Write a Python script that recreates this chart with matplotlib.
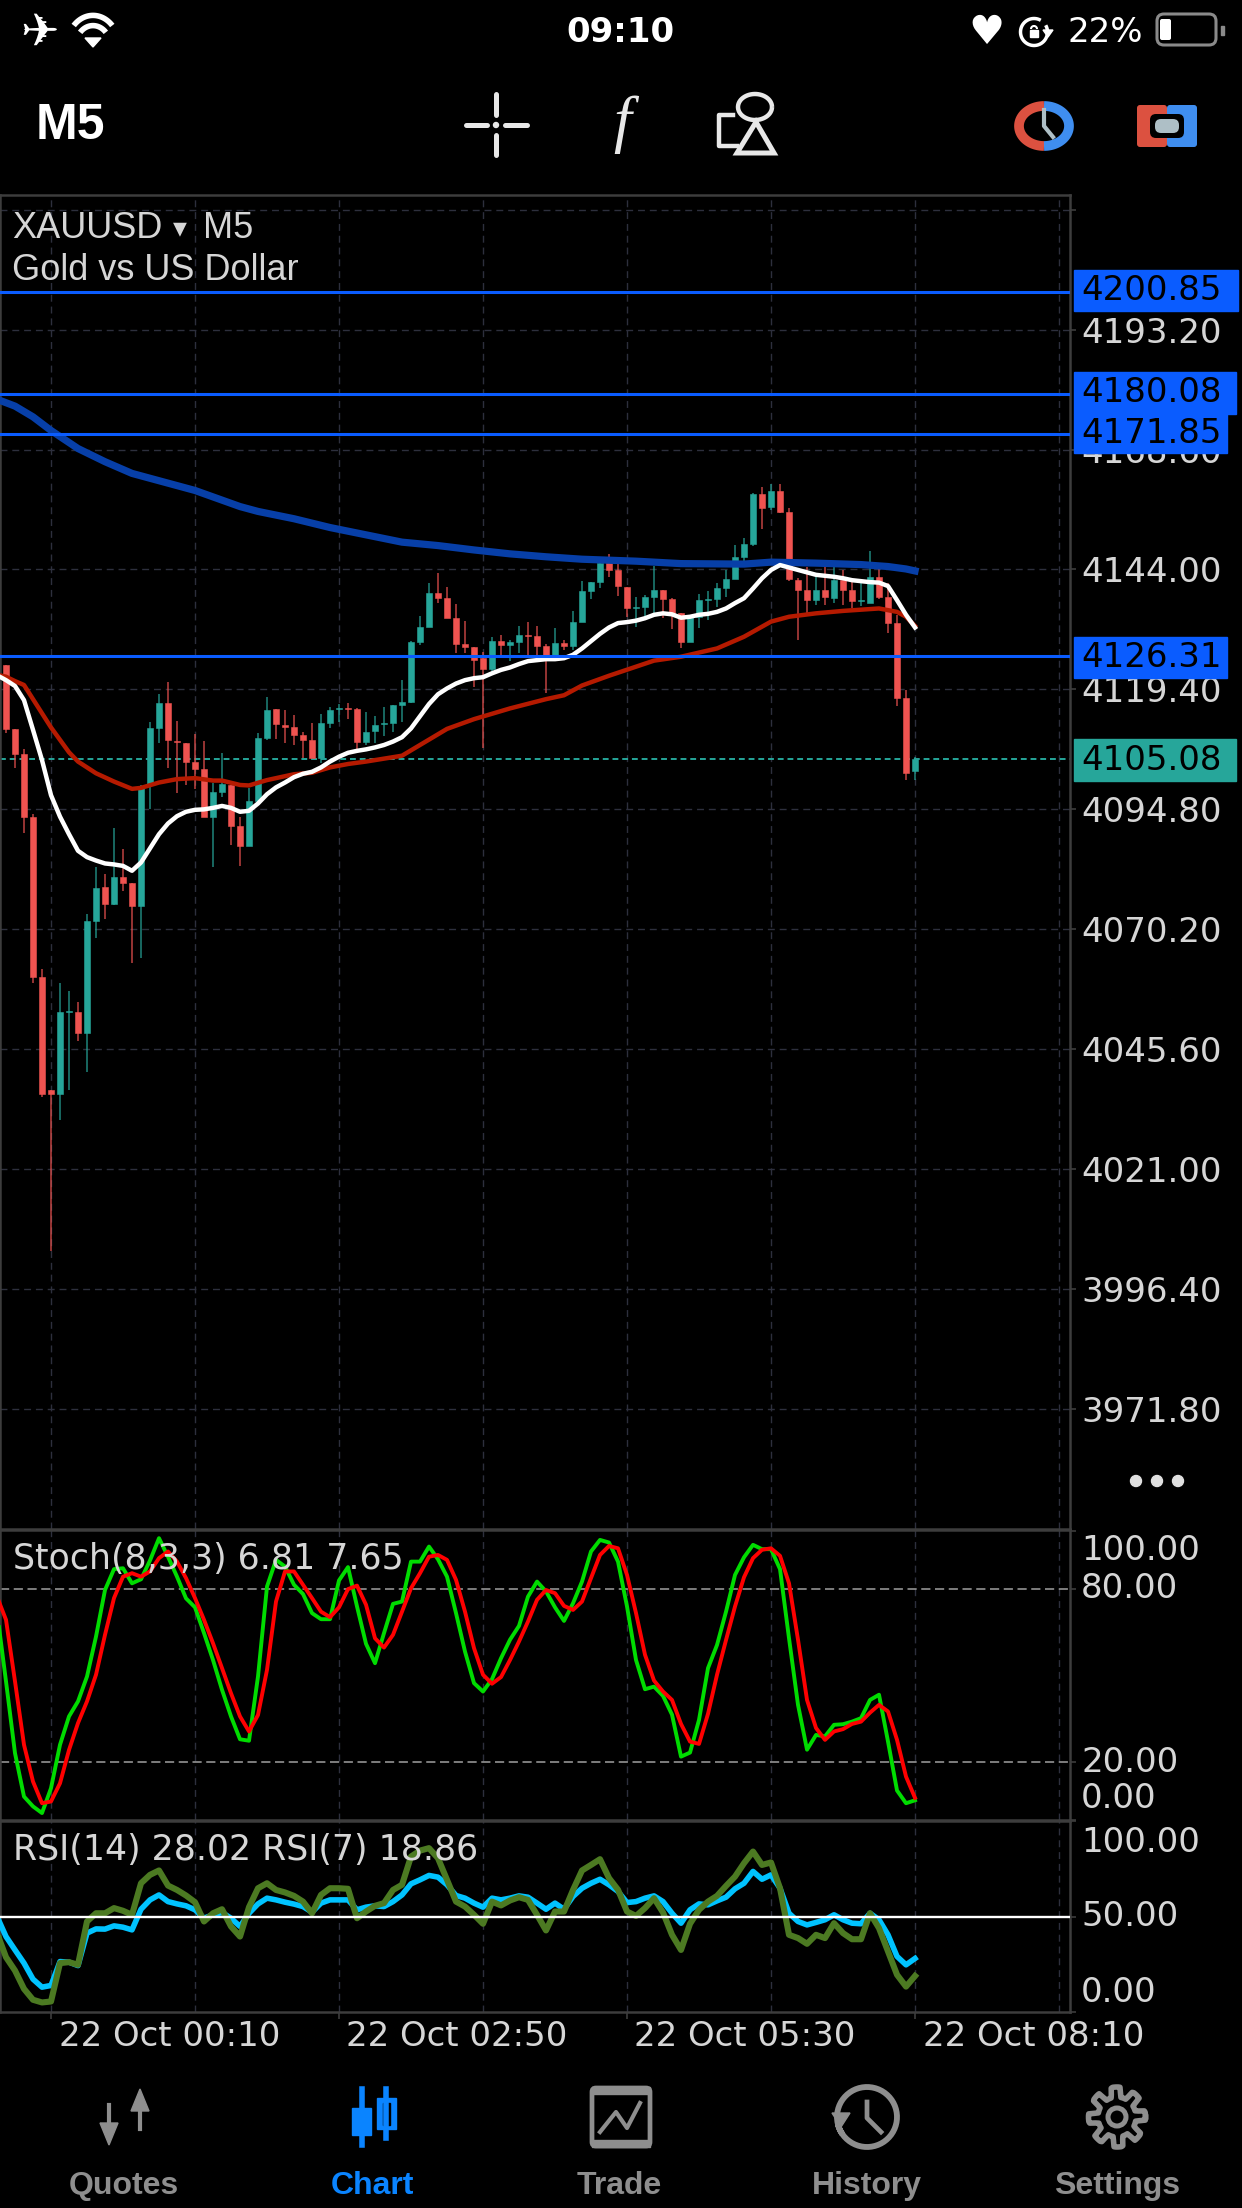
import numpy as np
import matplotlib
matplotlib.use("Agg")
import matplotlib.pyplot as plt
from matplotlib.patches import Rectangle, FancyBboxPatch, Polygon, Circle

W, H = 1242, 2208

# candles, one per 5 minute bar
open_p = [4124.4, 4111.3, 4106.2, 4093.2, 4060.4, 4037.2, 4036.4, 4053.2, 4053.2, 4048.9,
          4071.9, 4078.9, 4075.4, 4080.9, 4079.7, 4075.0, 4099.8, 4111.5, 4116.6, 4108.8,
          4108.4, 4104.5, 4103.1, 4093.2, 4098.4, 4099.8, 4091.4, 4087.3, 4096.5, 4109.4,
          4115.4, 4112.1, 4111.7, 4110.1, 4109.0, 4105.3, 4112.5, 4115.4, 4115.6, 4115.4,
          4108.6, 4110.9, 4112.3, 4112.5, 4116.2, 4116.8, 4129.1, 4132.2, 4139.2, 4138.2,
          4134.0, 4128.7, 4128.1, 4125.8, 4123.6, 4129.3, 4128.5, 4129.1, 4130.6, 4130.4,
          4128.3, 4126.5, 4128.9, 4128.3, 4133.2, 4139.6, 4141.4, 4145.3, 4143.9, 4140.4,
          4136.1, 4136.3, 4138.4, 4139.8, 4137.9, 4135.1, 4129.1, 4134.3, 4137.7, 4137.9,
          4140.2, 4142.1, 4146.6, 4149.2, 4159.5, 4156.8, 4160.1, 4155.8, 4141.8, 4139.8,
          4137.7, 4139.8, 4138.2, 4141.8, 4139.8, 4137.5, 4137.1, 4142.5, 4138.4, 4133.0,
          4117.6, 4102.7]
high_p = [4124.4, 4111.3, 4107.2, 4093.9, 4062.1, 4037.2, 4059.2, 4057.5, 4055.3, 4073.3,
          4083.0, 4081.5, 4091.0, 4086.7, 4079.7, 4099.8, 4112.7, 4118.5, 4120.9, 4112.9,
          4108.4, 4110.3, 4108.8, 4100.2, 4106.4, 4099.8, 4093.2, 4099.2, 4110.5, 4117.9,
          4115.4, 4115.2, 4114.2, 4110.7, 4112.5, 4114.4, 4115.8, 4116.4, 4116.6, 4115.6,
          4114.8, 4114.0, 4115.8, 4116.2, 4121.3, 4129.3, 4134.5, 4141.2, 4143.3, 4140.4,
          4136.9, 4133.4, 4128.1, 4127.1, 4130.2, 4130.6, 4129.5, 4132.4, 4133.2, 4132.4,
          4128.7, 4132.0, 4129.5, 4135.5, 4141.6, 4141.4, 4146.6, 4147.2, 4145.9, 4140.4,
          4138.4, 4138.8, 4144.7, 4139.8, 4138.2, 4135.1, 4134.7, 4139.0, 4139.6, 4141.2,
          4143.9, 4149.0, 4150.5, 4159.7, 4160.9, 4161.5, 4161.5, 4156.6, 4142.3, 4144.5,
          4142.5, 4144.5, 4144.5, 4143.9, 4142.3, 4141.2, 4147.8, 4144.1, 4141.2, 4134.7,
          4119.3, 4105.5]
low_p = [4110.5, 4103.3, 4090.0, 4059.2, 4035.8, 4004.2, 4031.1, 4037.2, 4047.3, 4040.9,
         4068.4, 4072.3, 4075.2, 4078.1, 4063.3, 4064.3, 4094.9, 4108.4, 4103.3, 4098.2,
         4099.8, 4099.0, 4093.2, 4083.0, 4097.3, 4087.5, 4083.2, 4087.3, 4096.5, 4109.0,
         4109.2, 4108.4, 4108.0, 4105.3, 4105.3, 4104.3, 4111.5, 4112.7, 4113.3, 4107.2,
         4108.0, 4108.4, 4109.9, 4110.7, 4112.7, 4116.6, 4128.5, 4132.2, 4137.1, 4134.0,
         4126.9, 4126.9, 4119.9, 4107.4, 4123.2, 4126.0, 4125.2, 4126.9, 4126.0, 4125.8,
         4118.7, 4125.8, 4127.5, 4127.5, 4133.2, 4137.9, 4140.2, 4142.5, 4138.6, 4134.3,
         4132.2, 4134.5, 4134.7, 4134.0, 4131.8, 4127.9, 4129.1, 4132.0, 4133.6, 4136.3,
         4138.4, 4142.1, 4145.7, 4148.8, 4152.3, 4156.2, 4155.6, 4141.6, 4129.5, 4135.1,
         4136.7, 4136.7, 4137.1, 4136.7, 4136.1, 4136.5, 4137.1, 4137.9, 4131.0, 4116.0,
         4100.8, 4100.8]
close_p = [4111.3, 4106.2, 4093.2, 4060.4, 4036.4, 4036.4, 4053.2, 4053.4, 4048.9, 4071.9,
           4078.7, 4075.4, 4080.9, 4079.7, 4075.0, 4099.2, 4111.5, 4116.6, 4109.0, 4108.6,
           4104.5, 4103.1, 4093.2, 4098.4, 4100.0, 4091.4, 4087.3, 4096.5, 4109.4, 4115.2,
           4112.3, 4111.7, 4110.1, 4109.0, 4105.3, 4112.5, 4115.2, 4115.6, 4115.4, 4108.6,
           4110.7, 4112.1, 4112.5, 4116.2, 4116.8, 4129.1, 4132.2, 4139.2, 4138.2, 4134.0,
           4128.7, 4128.1, 4125.4, 4123.6, 4129.3, 4128.5, 4129.1, 4130.6, 4130.4, 4128.3,
           4126.0, 4128.9, 4128.3, 4133.2, 4139.6, 4141.4, 4145.3, 4143.9, 4140.6, 4136.1,
           4136.3, 4138.4, 4139.8, 4137.9, 4135.1, 4129.1, 4134.3, 4137.7, 4137.9, 4140.2,
           4142.1, 4146.6, 4149.2, 4159.5, 4156.6, 4160.1, 4155.8, 4142.1, 4139.8, 4137.7,
           4139.8, 4138.4, 4141.8, 4139.8, 4137.5, 4137.7, 4142.5, 4138.4, 4133.0, 4117.6,
           4102.3, 4105.08]

# moving averages, bar numbers start one bar left of the first candle
ma_fast = [4122.3, 4121.3, 4120.1, 4117.2, 4111.1, 4104.9, 4097.7, 4093.3, 4089.7, 4086.3, 4085.0,
           4084.3, 4083.7, 4083.5, 4083.2, 4082.2, 4083.9, 4086.8, 4089.7, 4091.9, 4093.4,
           4094.3, 4094.7, 4094.8, 4095.1, 4095.5, 4095.1, 4094.3, 4094.5, 4096.0, 4097.9,
           4099.3, 4100.3, 4101.4, 4102.1, 4102.5, 4103.4, 4104.6, 4105.6, 4106.4, 4106.8,
           4107.1, 4107.5, 4108.0, 4108.7, 4109.6, 4111.4, 4113.9, 4116.4, 4118.4, 4119.6,
           4120.6, 4121.3, 4121.7, 4121.9, 4122.7, 4123.4, 4123.9, 4124.6, 4125.2, 4125.4,
           4125.6, 4125.6, 4125.8, 4126.5, 4127.8, 4129.3, 4130.8, 4132.1, 4133.0, 4133.2,
           4133.5, 4134.0, 4134.7, 4135.0, 4134.8, 4134.1, 4134.3, 4134.7, 4134.9, 4135.3,
           4136.0, 4137.1, 4138.1, 4140.1, 4142.2, 4143.9, 4144.9, 4144.4, 4143.9, 4143.4,
           4142.9, 4142.7, 4142.5, 4142.2, 4141.8, 4141.6, 4141.4, 4141.3, 4140.6, 4137.7,
           4134.7, 4132.1]
ma_mid_bars = [-1, 0, 1, 2, 3, 5, 7, 8, 10, 12, 14, 15, 17, 19, 21, 23, 24, 26, 27, 29, 32, 34, 36,
               38, 40, 44, 46, 49, 52, 56, 60, 62, 64, 67, 72, 75, 79, 82, 85, 87, 90, 93, 97, 99,
               100, 101]
ma_mid = [4122.4, 4122.0, 4121.1, 4120.3, 4117.4, 4111.6, 4106.5, 4104.6, 4102.2, 4100.5, 4099.0,
          4099.2, 4100.3, 4101.0, 4101.2, 4100.7, 4100.7, 4099.8, 4099.7, 4100.8, 4102.0, 4102.3,
          4103.4, 4104.1, 4104.6, 4105.8, 4108.0, 4111.3, 4113.3, 4115.5, 4117.4, 4118.2, 4120.2,
          4122.2, 4125.3, 4126.1, 4127.8, 4130.2, 4133.3, 4134.3, 4135.0, 4135.5, 4136.0, 4135.3,
          4134.3, 4132.4]
ma_slow_bars = [-1, 1, 3, 5, 8, 11, 14, 16, 21, 26, 28, 32, 36, 40, 44, 48, 52, 56, 60, 64, 70, 75,
                82, 85, 90, 95, 98, 100, 101]
ma_slow = [4178.9, 4177.5, 4175.3, 4172.5, 4168.8, 4166.1, 4163.7, 4162.7, 4160.2, 4156.9, 4155.9,
           4154.4, 4152.6, 4151.1, 4149.6, 4148.9, 4148.0, 4147.2, 4146.6, 4146.1, 4145.7, 4145.2,
           4145.1, 4145.5, 4145.3, 4145.0, 4144.6, 4144.1, 4143.7]

level_prices = [4200.85, 4180.08, 4171.85, 4126.31]
last_price = 4105.08
price_ticks = [4217.80, 4193.20, 4168.60, 4144.00, 4119.40, 4094.80, 4070.20, 4045.60, 4021.00,
               3996.40, 3971.80]

stoch_k = [72.0, 47.9, 23.1, 8.1, 4.7, 2.4, 11.0, 26.0, 35.8, 41.0, 49.6, 63.4, 79.5, 86.7, 87.0,
           81.8, 83.2, 89.7, 97.4, 91.0, 84.1, 76.6, 73.5, 64.6, 55.3, 45.0, 35.8, 27.9, 27.4,
           49.6, 80.7, 89.9, 87.6, 81.3, 78.1, 71.5, 69.4, 69.4, 82.8, 87.4, 73.8, 60.9, 54.2,
           64.6, 74.7, 75.5, 89.3, 89.3, 94.5, 90.1, 84.1, 71.5, 58.2, 47.3, 44.4, 48.7, 55.9,
           62.3, 67.1, 77.2, 82.4, 79.0, 73.5, 68.8, 74.9, 82.4, 92.8, 96.8, 95.9, 89.3, 73.8,
           55.3, 45.2, 46.1, 42.9, 36.4, 21.9, 23.3, 34.6, 52.5, 60.5, 72.0, 84.7, 90.8, 95.1,
           93.6, 93.6, 86.7, 62.8, 39.8, 24.3, 29.4, 28.9, 32.9, 33.1, 34.0, 35.2, 41.5, 43.3,
           27.1, 10.2, 5.8, 6.81]
stoch_d = [77.2, 69.2, 47.9, 26.0, 13.3, 5.8, 6.4, 12.7, 24.2, 33.5, 41.0, 50.2, 64.0, 76.7, 84.1,
           85.3, 84.1, 85.9, 90.5, 92.8, 89.3, 83.6, 76.7, 69.2, 61.1, 52.5, 43.8, 35.8, 30.6,
           36.3, 51.9, 75.5, 85.9, 85.9, 81.3, 76.7, 72.0, 70.1, 73.5, 79.8, 81.0, 74.4, 62.8,
           59.6, 64.0, 72.0, 80.1, 85.3, 91.0, 91.6, 89.9, 83.0, 72.0, 59.4, 50.2, 47.1, 49.4,
           55.3, 61.7, 68.6, 76.1, 79.5, 78.4, 74.0, 72.6, 75.5, 83.6, 91.6, 94.7, 93.9, 84.7,
           71.5, 57.1, 48.2, 44.4, 41.5, 33.2, 27.1, 26.3, 36.7, 50.2, 62.2, 73.8, 83.9, 90.5,
           93.4, 93.9, 91.3, 81.8, 62.3, 41.5, 31.8, 27.7, 30.6, 31.4, 33.2, 34.0, 37.1, 39.8,
           37.5, 27.7, 15.0, 7.65]

rsi_14 = [50.0, 39.5, 32.5, 25.6, 17.2, 13.0, 13.9, 26.4, 26.1, 24.3, 41.3, 43.5, 43.4, 45.1, 44.4,
          43.0, 53.8, 58.7, 61.3, 57.8, 56.6, 55.6, 53.5, 49.1, 50.9, 52.1, 49.1, 44.8, 51.7,
          56.6, 59.6, 58.7, 57.5, 56.5, 55.2, 52.3, 57.0, 58.7, 58.7, 58.7, 53.5, 54.9, 55.6,
          55.2, 57.8, 61.3, 67.1, 69.2, 71.5, 70.6, 66.6, 61.0, 59.6, 57.0, 54.9, 59.6, 58.7,
          59.6, 60.8, 60.1, 57.0, 53.8, 57.0, 53.8, 60.5, 64.8, 67.4, 69.5, 66.6, 63.1, 57.3,
          57.8, 59.6, 60.8, 57.8, 51.7, 46.5, 53.5, 56.6, 56.1, 58.2, 60.1, 64.5, 67.4, 73.6,
          69.5, 71.8, 64.8, 51.7, 47.4, 45.6, 46.9, 48.3, 50.9, 48.3, 46.5, 46.2, 51.7, 48.3,
          40.4, 29.1, 24.7, 28.02]
rsi_7 = [41.3, 28.7, 21.7, 12.1, 6.4, 5.0, 5.5, 25.6, 26.1, 24.7, 47.4, 51.7, 51.7, 54.4, 53.0,
         50.9, 67.4, 71.8, 74.1, 66.2, 63.9, 61.0, 57.5, 47.4, 51.7, 53.8, 44.8, 39.5, 54.9,
         64.8, 67.4, 63.9, 62.6, 60.8, 57.8, 51.7, 61.3, 64.8, 64.8, 64.5, 49.1, 52.6, 55.6,
         57.0, 63.9, 66.6, 81.4, 84.5, 85.8, 80.5, 69.2, 57.8, 55.2, 50.9, 46.2, 57.8, 55.8,
         58.4, 60.1, 58.7, 50.9, 42.7, 52.6, 52.6, 63.9, 74.1, 77.0, 80.0, 70.1, 64.0, 52.6,
         50.3, 54.4, 59.6, 52.1, 40.4, 32.5, 46.2, 53.5, 57.8, 60.8, 66.0, 70.9, 77.9, 84.0,
         77.0, 78.3, 64.8, 40.4, 38.7, 35.7, 40.4, 38.7, 46.5, 41.3, 38.1, 38.1, 51.7, 43.9,
         31.7, 19.5, 13.3, 18.86]

grid_bars = [5, 21, 37, 53, 69, 85, 101, 117]
time_bars = [5, 37, 69, 101]
time_labels = ["22 Oct 00:10", "22 Oct 02:50", "22 Oct 05:30", "22 Oct 08:10"]

UP = "#26a69a"
DOWN = "#ef5350"
BLUE = "#0a5cff"
GRID = "#2d2f3d"
SPINE = "#3d3d3d"
TEXT = "#d6d6d6"
GREY = "#8e8e8e"
TAB_BLUE = "#0a84ff"
GRID_DASH = (0, (5, 3.5))
LABEL_SIZE = 24.5


def panel(fig, top, bottom, ylim, yticks):
    ax = fig.add_axes([0, 1 - bottom / H, 1070 / W, (bottom - top) / H])
    ax.set_facecolor("black")
    ax.set_xlim(-0.667, 118.22)
    ax.set_ylim(*ylim)
    for name in ax.spines:
        ax.spines[name].set_color(SPINE)
        ax.spines[name].set_linewidth(1.8)
    ax.set_xticks(time_bars)
    ax.set_yticks(yticks)
    ax.tick_params(axis="both", colors=SPINE, length=4.5, width=1.2, labelbottom=False,
                   labelleft=False, left=False, right=True, bottom=False, labelright=False)
    for bar in grid_bars:
        ax.axvline(bar, color=GRID, lw=1.0, ls=GRID_DASH, zorder=1)
    return ax


def draw_main(ax):
    for price in price_ticks:
        ax.axhline(price, color=GRID, lw=1.0, ls=GRID_DASH, zorder=1)
    ax.axhline(last_price, color=UP, lw=1.4, ls=(0, (3, 2)), zorder=2)

    bars = np.arange(len(open_p))
    opens = np.array(open_p)
    closes = np.array(close_p)
    colors = [UP if c >= o else DOWN for o, c in zip(opens, closes)]
    ax.vlines(bars, low_p, high_p, colors=colors, lw=1.1, alpha=0.8, zorder=3)
    ax.bar(bars, np.abs(closes - opens), bottom=np.minimum(opens, closes), width=0.76,
           color=colors, edgecolor=colors, linewidth=0.4, zorder=3)

    ax.plot(ma_slow_bars, ma_slow, color="#073fa8", lw=5.2, zorder=4, solid_joinstyle="round")
    ax.plot(ma_mid_bars, ma_mid, color="#b51a00", lw=3.2, zorder=4, solid_joinstyle="round")
    ax.plot(np.arange(-1, len(ma_fast) - 1), ma_fast, color="white", lw=3.2, zorder=5)
    for price in level_prices:
        ax.axhline(price, color=BLUE, lw=2.2, zorder=6)

    ax.set_yticks(price_ticks)
    ax.tick_params(axis="y", labelright=True, labelcolor=TEXT, labelsize=LABEL_SIZE, pad=3.5)
    ax.set_yticklabels(["" if p == price_ticks[0] else "%.2f" % p for p in price_ticks])


def draw_stoch(ax):
    for level in (80, 20):
        ax.axhline(level, color="#a0a0a0", lw=1.1, ls=(0, (6, 3)), zorder=2)
    x = np.arange(-1, len(stoch_k) - 1)
    ax.plot(x, stoch_k, color="#00dc00", lw=2.8, zorder=3)
    ax.plot(x, stoch_d, color="#ff0000", lw=2.8, zorder=4)


def draw_rsi(ax):
    ax.axhline(50, color="white", lw=1.7, zorder=5)
    x = np.arange(-1, len(rsi_14) - 1)
    ax.plot(x, rsi_14, color="#00c3ff", lw=4.0, zorder=3)
    ax.plot(x, rsi_7, color="#4c7a22", lw=4.4, zorder=4)
    ax.tick_params(axis="x", bottom=True, length=5)


def arc(ov, cx, cy, rx, ry, start, end, color, lw):
    t = np.radians(np.linspace(start, end, 60))
    ov.plot(cx + rx * np.cos(t), cy + ry * np.sin(t), color=color, lw=lw, solid_capstyle="butt")


def draw_status(ov):
    ov.text(40, 33, "\u2708", color="white", fontsize=33, ha="center", va="center",
            family="DejaVu Sans")
    for r in (36, 24):
        arc(ov, 93, 46, r * 0.72, r * 0.85, 222, 318, "white", 4.0)
    ov.add_patch(Polygon([[85, 38], [101, 38], [93, 47]], color="white"))
    ov.text(620, 33, "09:10", color="white", fontsize=24.5, weight="bold", ha="center", va="center")
    ov.text(986, 33, "\u2665", color="white", fontsize=29, ha="center", va="center")
    arc(ov, 1034, 32, 13.5, 13.5, -30, 300, "white", 2.5)
    ov.add_patch(Rectangle((1030, 30), 8, 7, color="white"))
    arc(ov, 1034, 29, 3, 3, 180, 360, "white", 1.5)
    ov.add_patch(Polygon([[1043, 30], [1053, 30], [1048, 37]], color="white"))
    ov.text(1105, 33, "22%", color="white", fontsize=24.5, ha="center", va="center")
    ov.add_patch(FancyBboxPatch((1157, 14), 59, 31, boxstyle="round,pad=0,rounding_size=7",
                                fc="none", ec="#8a8a8a", lw=2.2))
    ov.add_patch(FancyBboxPatch((1160, 19), 11, 21, boxstyle="round,pad=0,rounding_size=2",
                                fc="white", ec="none"))
    ov.add_patch(Rectangle((1221, 26), 2.5, 9, color="#8a8a8a"))


def draw_toolbar(ov):
    ink = "#e8e8e8"
    ov.text(70, 126, "M5", color="white", fontsize=36, weight="bold",
            family=["Liberation Sans Narrow", "Liberation Sans"], ha="center", va="center")
    for xs, ys in (([466, 487], [125, 125]), ([505, 527], [125, 125]),
                   ([496, 496], [94, 115]), ([496, 496], [135, 155])):
        ov.plot(xs, ys, color=ink, lw=3.6, solid_capstyle="round")
    ov.add_patch(Circle((496, 125), 2.5, color=ink))
    ov.text(622, 125, "f", color=ink, fontsize=46, style="italic", family="Liberation Serif",
            ha="center", va="center")
    arc(ov, 755, 107, 17, 13, 0, 360, ink, 3.2)
    ov.add_patch(Polygon([[756, 122], [737, 153], [774, 153]], fc="none", ec=ink, lw=3.6))
    ov.plot([733, 719, 719, 737], [115, 115, 146, 146], color=ink, lw=3.2)
    # timeframe clock and toggle
    arc(ov, 1044, 126, 25, 20, 90, 270, "#dc5140", 7)
    arc(ov, 1044, 126, 25, 20, -90, 90, "#3f8ef0", 7)
    ov.plot([1044, 1044, 1053], [110, 126, 137], color="#aebfc6", lw=3)
    ov.add_patch(FancyBboxPatch((1137, 105), 30, 42, boxstyle="round,pad=0,rounding_size=3",
                                fc="#dc5140", ec="none"))
    ov.add_patch(FancyBboxPatch((1167, 105), 30, 42, boxstyle="round,pad=0,rounding_size=3",
                                fc="#3f8ef0", ec="none"))
    ov.add_patch(FancyBboxPatch((1150, 114), 34, 24, boxstyle="round,pad=0,rounding_size=6",
                                fc="black", ec="none"))
    ov.add_patch(FancyBboxPatch((1155, 119), 24, 14, boxstyle="round,pad=0,rounding_size=6",
                                fc="#aebfc6", ec="none"))


def draw_labels(ov):
    ov.text(12, 228, "XAUUSD", color=TEXT, fontsize=26, family="Liberation Sans", va="center")
    ov.text(180, 228, "\u25be", color=TEXT, fontsize=20, ha="center", va="center")
    ov.text(203, 228, "M5", color=TEXT, fontsize=26, family="Liberation Sans", va="center")
    ov.text(12, 270, "Gold vs US Dollar", color=TEXT, fontsize=26, family="Liberation Sans",
            va="center")
    ov.text(13, 1559, "Stoch(8,3,3) 6.81 7.65", color=TEXT, fontsize=LABEL_SIZE + 0.5, va="center")
    ov.text(13, 1850, "RSI(14) 28.02 RSI(7) 18.86", color=TEXT, fontsize=LABEL_SIZE + 0.5,
            va="center")

    # the app pulls the end labels inside each panel
    for text, y in (("100.00", 1551), ("80.00", 1588), ("20.00", 1762), ("0.00", 1799),
                    ("100.00", 1842), ("50.00", 1917), ("0.00", 1992)):
        ov.text(1081, y, text, color=TEXT, fontsize=LABEL_SIZE, va="center")

    boxes = [("4200.85", 270, 311, 1238, BLUE), ("4180.08", 372, 414, 1236, BLUE),
             ("4171.85", 414, 453, 1227, BLUE), ("4126.31", 637, 678, 1227, BLUE),
             ("4105.08", 739, 781, 1236, UP)]
    for text, top, bottom, right, color in boxes:
        ov.add_patch(Rectangle((1074, top), right - 1074, bottom - top, color=color))
        ov.text(1081, (top + bottom) / 2, text, color="black", fontsize=LABEL_SIZE, va="center")

    for x in (1136, 1157, 1178):
        ov.add_patch(Circle((x, 1481), 5.5, color="#e0e0e0"))

    for x, text in zip((59, 346, 634, 923), time_labels):
        ov.text(x, 2037, text, color=TEXT, fontsize=LABEL_SIZE, va="center")


def draw_tabs(ov):
    tabs = [("Quotes", 124, GREY), ("Chart", 372, TAB_BLUE), ("Trade", 619, GREY),
            ("History", 867, GREY), ("Settings", 1117, GREY)]
    for text, x, color in tabs:
        ov.text(x, 2186, text, color=color, fontsize=23, weight="bold", family="Liberation Sans",
                ha="center", va="center")

    # quotes arrows
    ov.plot([109, 109], [2105, 2135], color=GREY, lw=3)
    ov.add_patch(Polygon([[100, 2123], [118, 2123], [109, 2145]], color=GREY))
    ov.plot([140, 140], [2099, 2129], color=GREY, lw=3)
    ov.add_patch(Polygon([[131, 2111], [149, 2111], [140, 2089]], color=GREY))

    # chart candles
    ov.plot([362, 362], [2089, 2145], color=TAB_BLUE, lw=4)
    ov.add_patch(Rectangle((352, 2108), 19, 27, color=TAB_BLUE))
    ov.plot([386, 386], [2089, 2138], color=TAB_BLUE, lw=4)
    ov.add_patch(Rectangle((377, 2098), 19, 31, color=TAB_BLUE))
    ov.add_patch(Rectangle((383, 2103), 7, 22, color="black"))

    # trade tablet
    ov.add_patch(FancyBboxPatch((592, 2088), 58, 58, boxstyle="round,pad=0,rounding_size=4",
                                fc="none", ec=GREY, lw=3.4))
    ov.add_patch(Rectangle((592, 2087), 58, 7, color=GREY))
    ov.add_patch(Rectangle((592, 2140), 58, 7, color=GREY))
    ov.plot([600, 616, 627, 640], [2132, 2112, 2128, 2103], color=GREY, lw=3)

    # history clock
    arc(ov, 867, 2117, 30, 30, -215, 165, GREY, 4.2)
    ov.add_patch(Polygon([[832, 2113], [850, 2113], [841, 2127]], color=GREY))
    ov.plot([867, 867, 881], [2102, 2118, 2132], color=GREY, lw=3.4)

    # settings gear
    t = np.radians(np.arange(0, 361, 3))
    r = 25 + 5 * np.clip(3 * np.cos(8 * t + 0.4), -1, 1)
    ov.plot(1117 + r * 0.95 * np.cos(t), 2117 + r * np.sin(t), color=GREY, lw=4)
    ov.add_patch(Circle((1117, 2117), 9, fc="none", ec=GREY, lw=3.6))


def main():
    fig = plt.figure(figsize=(W / 100, H / 100), dpi=100, facecolor="black")

    ax_main = panel(fig, 195, 1529, (3947.2, 4220.8), price_ticks)
    draw_main(ax_main)
    ax_stoch = panel(fig, 1529.5, 1820, (0, 100.4), [0, 20, 80, 100])
    draw_stoch(ax_stoch)
    ax_rsi = panel(fig, 1821, 2012, (0, 100), [0, 50, 100])
    draw_rsi(ax_rsi)

    ov = fig.add_axes([0, 0, 1, 1], zorder=10)
    ov.set_xlim(0, W)
    ov.set_ylim(H, 0)
    ov.axis("off")
    ov.patch.set_alpha(0)

    draw_status(ov)
    draw_toolbar(ov)
    draw_labels(ov)
    draw_tabs(ov)

    fig.savefig("out.png", dpi=100, facecolor="black")


if __name__ == '__main__':
    main()
